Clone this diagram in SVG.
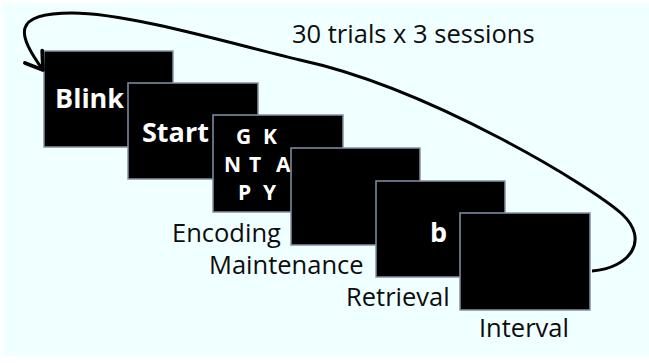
<svg xmlns="http://www.w3.org/2000/svg" width="649" height="363" viewBox="0 0 649 363">
  <defs>
    <style>
      .bg { fill: #F0FFFF; }
      .screen { fill: #000000; stroke: #8391A6; stroke-width: 1.5; }
      .scr-text { fill: #FFFFFF; font-family: "Open Sans", "DejaVu Sans", sans-serif; font-weight: bold; }
      .letters { font-size: 21px; }
      .label { fill: #0D0D0D; font-family: "Open Sans", "DejaVu Sans", sans-serif; font-size: 25.5px; }
      .loop { fill: none; stroke: #000000; stroke-width: 3; }
    </style>
    <marker id="arrow" markerUnits="userSpaceOnUse" markerWidth="30" markerHeight="30" viewBox="-16 -12 20 24" refX="0" refY="0" orient="auto">
      <path d="M-13,-8.5 L0,0 L-13,8.5" fill="none" stroke="#000000" stroke-width="3" stroke-linejoin="round" stroke-linecap="round"/>
    </marker>
  </defs>

  <rect class="bg" x="3" y="3" width="646" height="353"/>

  <g id="node-blink">
    <rect class="screen" x="44" y="51" width="129" height="96"/>
    <text class="scr-text" x="55" y="108" font-size="27">Blink</text>
  </g>
  <g id="node-start">
    <rect class="screen" x="128" y="83" width="130" height="96"/>
    <text class="scr-text" x="142" y="142" font-size="27">Start</text>
  </g>
  <g id="node-encoding">
    <rect class="screen" x="213" y="115" width="130" height="97"/>
    <text class="scr-text letters" x="236 252 263" y="144">G K</text>
    <text class="scr-text letters" x="224 242 249 267 276" y="172">N T A</text>
    <text class="scr-text letters" x="238 252 263" y="200">P Y</text>
    <text class="label" x="172" y="242">Encoding</text>
  </g>
  <g id="node-maintenance">
    <rect class="screen" x="291" y="148" width="129" height="97"/>
    <text class="label" x="209" y="274">Maintenance</text>
  </g>
  <g id="node-retrieval">
    <rect class="screen" x="376" y="181" width="129" height="96"/>
    <text class="scr-text" x="430" y="242" font-size="27">b</text>
    <text class="label" x="346" y="306">Retrieval</text>
  </g>
  <g id="node-interval">
    <rect class="screen" x="460" y="213" width="130" height="97"/>
    <text class="label" x="479" y="337">Interval</text>
  </g>

  <g id="connectors">
    <path class="loop" marker-end="url(#arrow)" d="M592,271 C630,268 650,240 622,214 C594,188 430,88 300,60 C240,46 130,13 72,13 C10,13 18,35 43,70"/>
    <text class="label" x="292" y="43">30 trials x 3 sessions</text>
  </g>
</svg>
